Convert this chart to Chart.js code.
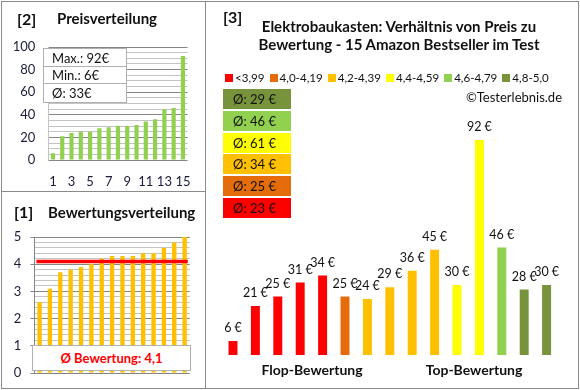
<!DOCTYPE html>
<html><head><meta charset="utf-8">
<script src="https://cdn.jsdelivr.net/npm/chart.js@4.4.0/dist/chart.umd.min.js"></script>
<style>
body{margin:0;background:#fff;font-family:Lato,"Noto Sans",sans-serif;color:#111}
#root{position:relative;width:580px;height:390px;overflow:hidden;background:#fff}
canvas{position:absolute}
.ln{position:absolute;background:#8a8a8a}
.t{position:absolute;white-space:nowrap;line-height:1}
.b{font-weight:700}
.info{position:absolute;left:43px;top:48px;width:84px;height:55px;border:1px solid #b0b0b0;background:#fff;box-sizing:border-box;font-size:13px}
.info div{border-bottom:1px solid #b0b0b0;padding-left:8px;box-sizing:border-box}
.info div:last-child{border-bottom:none}
.avg{position:absolute;left:223px;width:68px;height:20px;line-height:20px;font-size:13px;padding-left:10px;box-sizing:border-box;color:#111}
.leg{position:absolute;left:225px;top:71px;display:flex;gap:5px;font-size:11.6px;line-height:13px}
.leg span.sq{display:inline-block;width:8px;height:8px;margin-right:2px;vertical-align:0px}
</style></head>
<body><div id="root">
<canvas id="c2" width="205" height="191" style="left:0;top:0"></canvas>
<canvas id="c1" width="205" height="199" style="left:0;top:191px"></canvas>
<canvas id="c3" width="375" height="390" style="left:205px;top:0"></canvas>

<div class="ln" style="left:1px;top:1px;width:578px;height:1px"></div>
<div class="ln" style="left:1px;top:388px;width:578px;height:1px"></div>
<div class="ln" style="left:1px;top:1px;width:1px;height:388px"></div>
<div class="ln" style="left:578px;top:1px;width:1px;height:388px"></div>
<div class="ln" style="left:205px;top:1px;width:1px;height:388px"></div>
<div class="ln" style="left:1px;top:191px;width:205px;height:1px"></div>

<div class="t b" style="left:17px;top:11px;font-size:16px">[2]</div>
<div class="t b" style="left:57px;top:11px;font-size:15px">Preisverteilung</div>
<div class="info" id="info"></div>

<div class="t b" style="left:14px;top:204px;font-size:16px">[1]</div>
<div class="t b" style="left:48px;top:205px;font-size:15px">Bewertungsverteilung</div>
<div id="ratingBox" style="position:absolute;left:32px;top:345px;width:159px;height:26px;border:1px solid #b0b0b0;background:#fff;box-sizing:border-box;color:#ff0000;font-weight:700;font-size:13px;line-height:24px;text-align:center"></div>

<div class="t b" style="left:223px;top:9px;font-size:16px">[3]</div>
<div class="t b" style="left:225px;top:18px;width:348px;text-align:center;font-size:15px;line-height:17.5px;white-space:normal">Elektrobaukasten: Verhältnis von Preis zu<br>Bewertung - 15 Amazon Bestseller im Test</div>
<div class="leg" id="legend"></div>
<div class="t" style="right:18px;top:91px;font-size:13px">©Testerlebnis.de</div>
<div id="avgBoxes"></div>
<div class="t b" style="left:312px;top:363px;font-size:14px;transform:translateX(-50%)">Flop-Bewertung</div>
<div class="t b" style="left:474px;top:363px;font-size:14px;transform:translateX(-50%)">Top-Bewertung</div>
</div>
<script>
// ---- data ----
const productLabels = ['1','2','3','4','5','6','7','8','9','10','11','12','13','14','15'];
const sortedPrices = [6,21,24,25,25,28,29,30,30,31,34,36,45,46,92];
const sortedRatings = [2.6,3.1,3.7,3.8,3.9,4.0,4.2,4.3,4.3,4.3,4.4,4.4,4.6,4.8,5.0];
const averageRating = 4.1;
const averageRatingText = '4,1';
const priceStats = ['Max.: 92€','Min.: 6€','Ø: 33€'];
const mainPrices = [6,21,25,31,34,25,24,29,36,45,30,92,46,28,30];
const mainRatingClass = [0,0,0,0,0,1,2,2,2,2,3,3,4,5,5];
const classLabels = ['<3,99','4,0-4,19','4,2-4,39','4,4-4,59','4,6-4,79','4,8-5,0'];
const classColors = ['#FF0000','#E46C0A','#FFC000','#FFFF00','#92D050','#77933C'];
const classAverages = [23,25,34,61,46,29];

Chart.defaults.font.family = 'Lato, "Noto Sans", sans-serif';
Chart.defaults.animation = false;
const tickColor = '#1c1c3a';
const majorGrid = '#868686', minorGrid = '#c4c4c4';

// info box
document.getElementById('info').innerHTML = priceStats.map((s,i)=>
  `<div style="height:${i===1?17:18}px;line-height:${i===1?17:18}px">${s}</div>`).join('');
document.getElementById('ratingBox').textContent = 'Ø Bewertung: ' + averageRatingText;

// legend
document.getElementById('legend').innerHTML = classLabels.map((l,i)=>
  `<div><span class="sq" style="background:${classColors[i]}"></span>${l}</div>`).join('');

// average boxes (top: best class)
let html='';
for (let k=0;k<6;k++){
  const i = 5-k;
  html += `<div class="avg" style="top:${89+k*21.8}px;background:${classColors[i]}">Ø: ${classAverages[i]} €</div>`;
}
document.getElementById('avgBoxes').innerHTML = html;

// ---- chart [2] price distribution ----
new Chart(document.getElementById('c2'), {
  type:'bar',
  data:{labels:productLabels, datasets:[{data:sortedPrices, backgroundColor:'#92D050', barPercentage:0.45, categoryPercentage:1}]},
  options:{
    responsive:false, devicePixelRatio:1,
    layout:{padding:{left:0,right:15.3,top:47,bottom:0}},
    plugins:{legend:{display:false},tooltip:{enabled:false}},
    scales:{
      x:{grid:{display:false,drawTicks:false}, border:{display:false},
         afterFit:s=>{s.height=31;},
         ticks:{autoSkip:false,maxRotation:0,padding:14,color:tickColor,font:{size:13},
           callback:(v,i)=> i%2===0 ? productLabels[i] : ''}},
      y:{min:0,max:100, afterFit:s=>{s.width=48.3;},
         border:{display:true,color:'#c4c4c4'},
         grid:{drawTicks:false, color:c=> (c.tick && c.tick.value%20===0)?majorGrid:minorGrid},
         ticks:{stepSize:5,autoSkip:false,padding:13,color:tickColor,font:{size:13},
           callback:v=> v%20===0 ? String(v) : ''}}
    }
  }
});

// ---- chart [1] rating distribution ----
const avgLine = {id:'avgLine', afterDatasetsDraw(chart){
  const meta = chart.getDatasetMeta(0);
  const y = chart.scales.y.getPixelForValue(averageRating);
  const a = meta.data[0], b = meta.data[meta.data.length-1];
  const ctx = chart.ctx; ctx.save();
  ctx.strokeStyle='#FF0000'; ctx.lineWidth=3.5;
  ctx.beginPath(); ctx.moveTo(a.x-a.width/2-1,y); ctx.lineTo(b.x+b.width/2+1,y); ctx.stroke();
  ctx.restore();
}};
const isInt = v => Math.abs(v-Math.round(v))<1e-6;
new Chart(document.getElementById('c1'), {
  type:'bar',
  data:{labels:productLabels, datasets:[{data:sortedRatings, backgroundColor:'#FFC000', barPercentage:0.42, categoryPercentage:1}]},
  options:{
    responsive:false, devicePixelRatio:1,
    layout:{padding:{left:0,right:15.2,top:46,bottom:17}},
    plugins:{legend:{display:false},tooltip:{enabled:false}},
    scales:{
      x:{display:false},
      y:{min:0,max:5, afterFit:s=>{s.width=34.4;},
         border:{display:true,color:majorGrid},
         grid:{tickLength:4, color:c=> (c.tick && isInt(c.tick.value))?majorGrid:minorGrid,
               tickColor:c=> (c.tick && isInt(c.tick.value))?majorGrid:'rgba(0,0,0,0)'},
         ticks:{stepSize:0.2,autoSkip:false,padding:9,color:tickColor,font:{size:13},
           callback:v=> isInt(v) ? String(Math.round(v)) : ''}}
    }
  },
  plugins:[avgLine]
});

// ---- chart [3] price vs rating ----
const valueLabels = {id:'valueLabels', afterDatasetsDraw(chart){
  const meta = chart.getDatasetMeta(0); const ctx = chart.ctx;
  ctx.save(); ctx.font='12.5px Lato, sans-serif'; ctx.fillStyle='#111';
  ctx.textAlign='center'; ctx.textBaseline='middle';
  meta.data.forEach((bar,i)=>{ ctx.fillText(mainPrices[i]+' €', bar.x, bar.y-13); });
  ctx.restore();
}};
new Chart(document.getElementById('c3'), {
  type:'bar',
  data:{labels:productLabels, datasets:[{data:mainPrices,
    backgroundColor:mainRatingClass.map(c=>classColors[c]), barPercentage:0.40, categoryPercentage:1}]},
  options:{
    responsive:false, devicePixelRatio:1,
    layout:{padding:{left:16.8,right:22.2,top:121.3,bottom:35}},
    plugins:{legend:{display:false},tooltip:{enabled:false}},
    scales:{x:{display:false}, y:{display:false,min:0,max:100}}
  },
  plugins:[valueLabels]
});
</script>
</body></html>
